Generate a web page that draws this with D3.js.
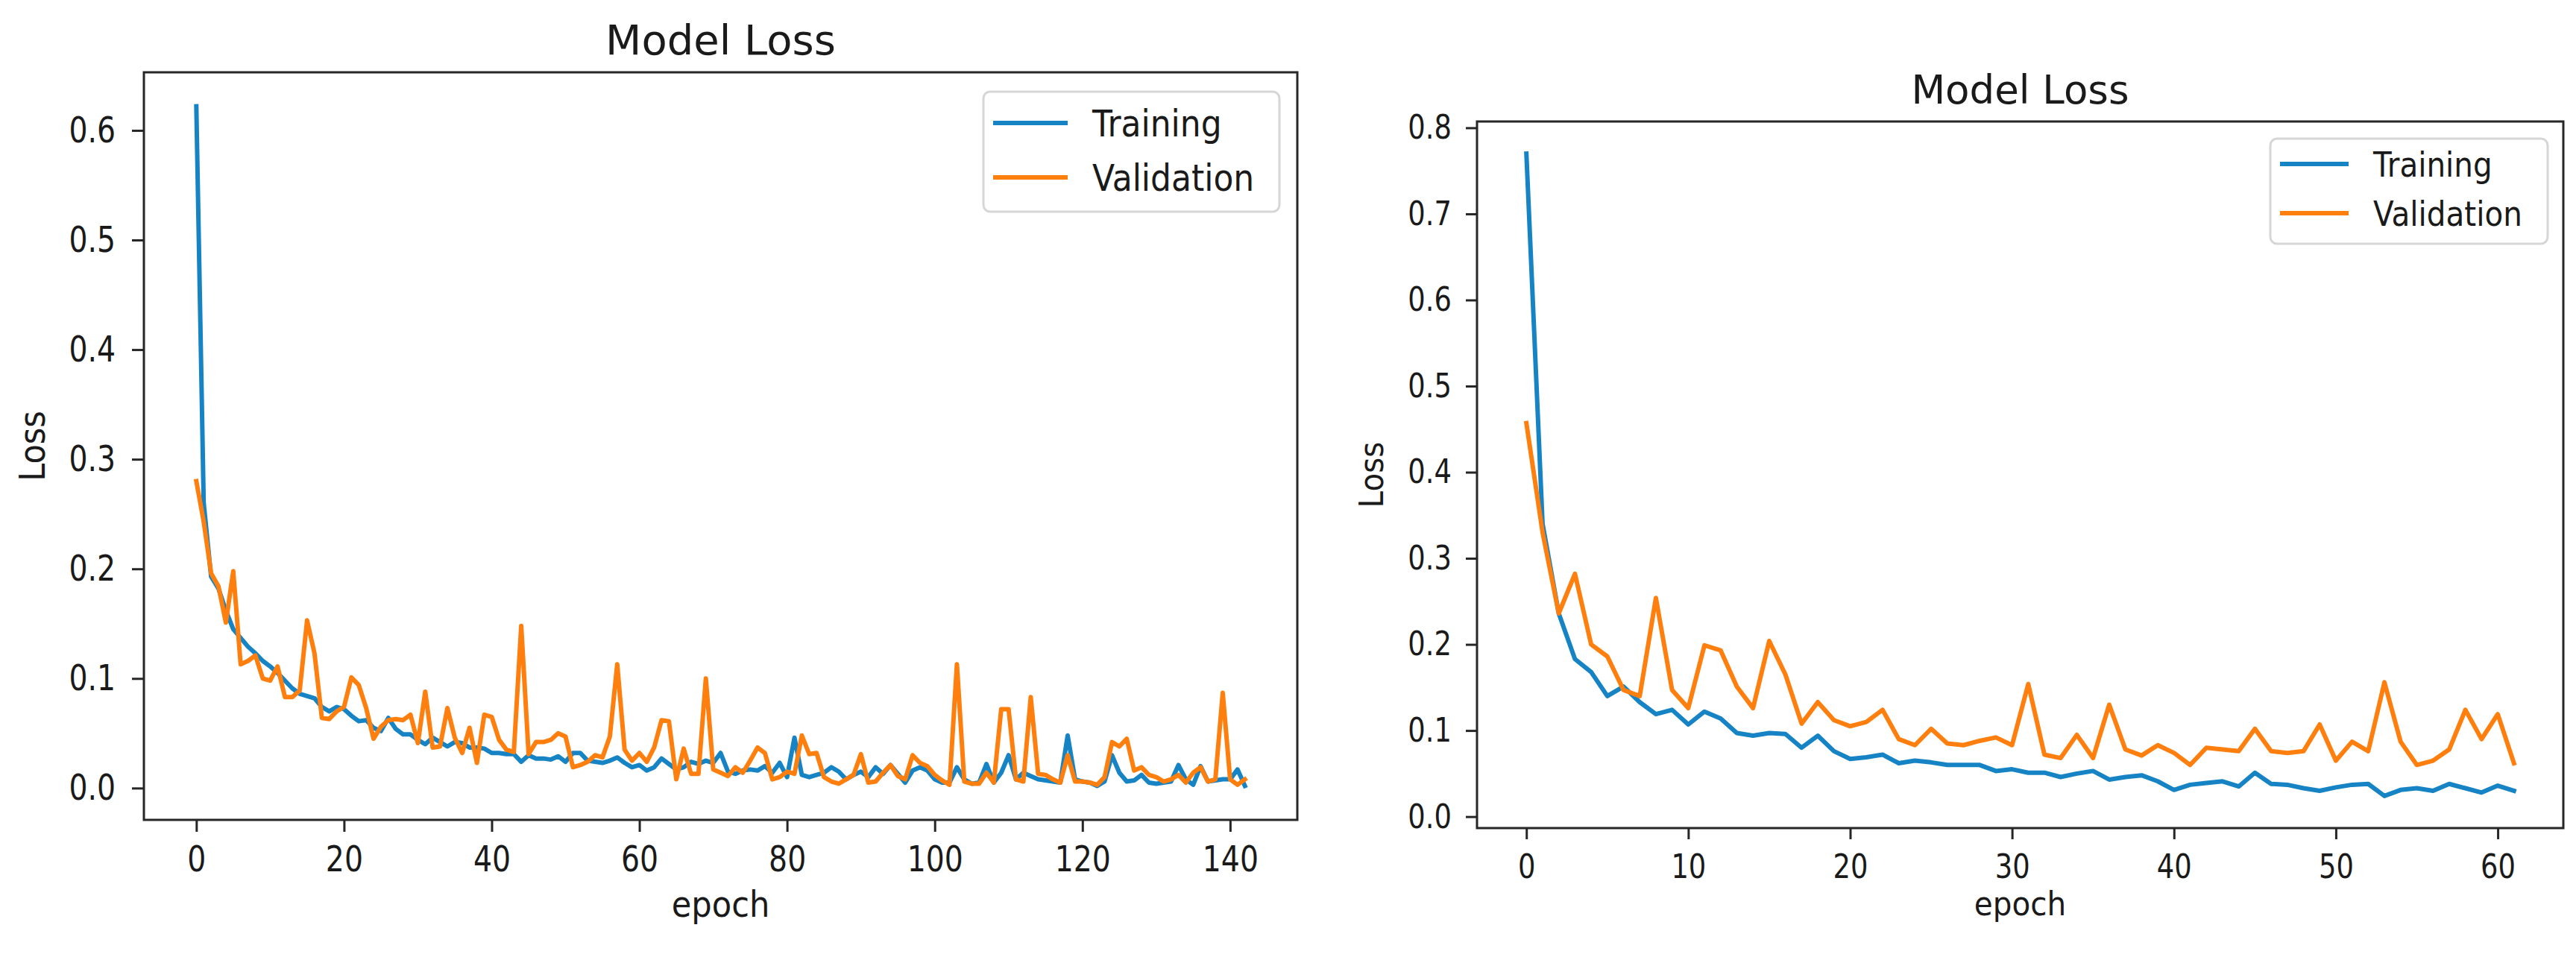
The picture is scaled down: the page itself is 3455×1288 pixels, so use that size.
<!DOCTYPE html>
<html>
<head>
<meta charset="utf-8">
<script src="https://cdn.jsdelivr.net/npm/d3@7"></script>
<style>
  html, body { margin: 0; padding: 0; background: #fff; }
  svg { display: block; }
  text { font-family: "DejaVu Sans", sans-serif; fill: #1a1a1a; }
</style>
</head>
<body>
<svg id="chart" width="3455" height="1288"></svg>
<script>
// ---- data ----
const seriesNames = ["Training", "Validation"];

// left panel: 143 epochs
const trainLossA = [
  0.622, 0.26, 0.193, 0.182, 0.162, 0.145, 0.137, 0.129, 0.123, 0.116,
  0.111, 0.105, 0.098, 0.091, 0.086, 0.084, 0.082, 0.074, 0.07, 0.074,
  0.072, 0.066, 0.061, 0.062, 0.055, 0.052, 0.064, 0.054, 0.049, 0.049,
  0.044, 0.04, 0.046, 0.042, 0.038, 0.042, 0.041, 0.037, 0.037, 0.036,
  0.032, 0.032, 0.031, 0.031, 0.024, 0.03, 0.027, 0.027, 0.026, 0.029,
  0.024, 0.032, 0.032, 0.025, 0.024, 0.023, 0.025, 0.028, 0.023, 0.019,
  0.021, 0.016, 0.019, 0.027, 0.022, 0.017, 0.019, 0.024, 0.022, 0.025,
  0.023, 0.032, 0.015, 0.013, 0.016, 0.017, 0.016, 0.02, 0.014, 0.023,
  0.01, 0.046, 0.012, 0.01, 0.012, 0.014, 0.019, 0.015, 0.008, 0.012,
  0.015, 0.01, 0.019, 0.013, 0.021, 0.013, 0.005, 0.016, 0.019, 0.016,
  0.008, 0.005, 0.005, 0.019, 0.008, 0.004, 0.005, 0.022, 0.005, 0.014,
  0.03, 0.008, 0.014, 0.011, 0.008, 0.007, 0.006, 0.005, 0.048, 0.008,
  0.006, 0.005, 0.002, 0.006, 0.03, 0.014, 0.006, 0.007, 0.012, 0.005,
  0.004, 0.005, 0.006, 0.021, 0.008, 0.003, 0.02, 0.006, 0.007, 0.008,
  0.008, 0.017, 0.002
];
const valLossA = [
  0.28, 0.243, 0.196, 0.184, 0.151, 0.198, 0.113, 0.116, 0.121, 0.1,
  0.098, 0.111, 0.083, 0.083, 0.089, 0.153, 0.123, 0.064, 0.063, 0.07,
  0.074, 0.101, 0.094, 0.073, 0.045, 0.056, 0.062, 0.063, 0.062, 0.067,
  0.041, 0.088, 0.037, 0.038, 0.073, 0.046, 0.032, 0.055, 0.023, 0.067,
  0.065, 0.044, 0.035, 0.033, 0.148, 0.031, 0.042, 0.042, 0.044, 0.05,
  0.047, 0.019, 0.021, 0.024, 0.03, 0.028, 0.047, 0.113, 0.035, 0.025,
  0.032, 0.024, 0.037, 0.062, 0.061, 0.008, 0.036, 0.013, 0.013, 0.1,
  0.017, 0.014, 0.011, 0.019, 0.014, 0.025, 0.037, 0.032, 0.008, 0.01,
  0.015, 0.013, 0.048, 0.031, 0.032, 0.01, 0.006, 0.004, 0.008, 0.012,
  0.031, 0.005, 0.006, 0.014, 0.021, 0.011, 0.008, 0.03, 0.023, 0.02,
  0.012, 0.007, 0.003, 0.113, 0.006, 0.004, 0.004, 0.014, 0.005, 0.072,
  0.072, 0.008, 0.006, 0.083, 0.013, 0.012, 0.008, 0.005, 0.03, 0.006,
  0.006, 0.005, 0.003, 0.01, 0.042, 0.038, 0.045, 0.016, 0.019, 0.012,
  0.01, 0.006, 0.008, 0.012, 0.005, 0.014, 0.019, 0.006, 0.008, 0.087,
  0.008, 0.003, 0.008
];
const xTicksA = [0, 20, 40, 60, 80, 100, 120, 140];
const yTicksA = [0.0, 0.1, 0.2, 0.3, 0.4, 0.5, 0.6];

// right panel: 62 epochs
const trainLossB = [
  0.77, 0.34, 0.236, 0.183, 0.168, 0.14, 0.151, 0.133, 0.119, 0.124,
  0.107, 0.122, 0.114, 0.097, 0.094, 0.097, 0.096, 0.08, 0.094, 0.076,
  0.067, 0.069, 0.072, 0.062, 0.065, 0.063, 0.06, 0.06, 0.06, 0.053,
  0.055, 0.051, 0.051, 0.046, 0.05, 0.053, 0.043, 0.046, 0.048, 0.041,
  0.031, 0.037, 0.039, 0.041, 0.035, 0.051, 0.038, 0.037, 0.033, 0.03,
  0.034, 0.037, 0.038, 0.024, 0.031, 0.033, 0.03, 0.038, 0.033, 0.028,
  0.036, 0.03
];
const valLossB = [
  0.457, 0.33, 0.236, 0.282, 0.2, 0.186, 0.147, 0.14, 0.254, 0.147,
  0.126, 0.199, 0.193, 0.151, 0.126, 0.204, 0.165, 0.108, 0.133, 0.112,
  0.105, 0.11, 0.124, 0.09, 0.083, 0.102, 0.085, 0.083, 0.088, 0.092,
  0.083, 0.154, 0.072, 0.068, 0.095, 0.068, 0.13, 0.078, 0.071, 0.083,
  0.074, 0.06, 0.08, 0.078, 0.076, 0.102, 0.076, 0.074, 0.076, 0.107,
  0.065, 0.087, 0.076, 0.156, 0.087, 0.06, 0.065, 0.078, 0.124, 0.09,
  0.119, 0.062
];
const xTicksB = [0, 10, 20, 30, 40, 50, 60];
const yTicksB = [0.0, 0.1, 0.2, 0.3, 0.4, 0.5, 0.6, 0.7, 0.8];

const COLORS = { train: "#1684c4", val: "#ff7f0e" };

const svg = d3.select("#chart");
svg.append("rect").attr("width", 3455).attr("height", 1288).attr("fill", "#fff");

/**
 * 横方向に詰めた文字（元画像の字形が細いため）
 */
function squeeze(sel, sx) {
  sel.each(function () {
    const t = d3.select(this);
    const x = +t.attr("x") || 0;
    t.attr("x", x / sx).attr("transform", `scale(${sx},1)`);
  });
}

// matplotlib 風の 5% 余白
function paddedExtent(values) {
  const [lo, hi] = d3.extent(values);
  const m = (hi - lo) * 0.05;
  return [lo - m, hi + m];
}

function drawPanel(p) {
  const n = p.train.length;
  const x = d3.scaleLinear().domain(paddedExtent([0, n - 1])).range([p.left, p.right]);
  const y = d3.scaleLinear().domain(paddedExtent(p.train.concat(p.val))).range([p.bottom, p.top]);
  const g = svg.append("g");

  // lines
  const line = d3.line().x((d, i) => x(i)).y((d) => y(d));
  const gLines = g.append("g");
  gLines.append("path").datum(p.train)
    .attr("d", line).attr("fill", "none")
    .attr("stroke", COLORS.train).attr("stroke-width", p.lw)
    .attr("stroke-linejoin", "round").attr("stroke-linecap", "square");
  gLines.append("path").datum(p.val)
    .attr("d", line).attr("fill", "none")
    .attr("stroke", COLORS.val).attr("stroke-width", p.lw)
    .attr("stroke-linejoin", "round").attr("stroke-linecap", "square");

  // axes
  const gx = g.append("g").attr("transform", `translate(0,${p.bottom})`)
    .call(d3.axisBottom(x).tickValues(p.xTicks).tickSize(p.tick).tickPadding(p.xPad).tickFormat(d3.format("d")));
  const gy = g.append("g").attr("transform", `translate(${p.left},0)`)
    .call(d3.axisLeft(y).tickValues(p.yTicks).tickSize(p.tick).tickPadding(p.yPad).tickFormat(d3.format(".1f")));
  [gx, gy].forEach((ax) => {
    ax.select(".domain").remove();
    ax.selectAll(".tick line").attr("stroke", "#262626").attr("stroke-width", 3);
    ax.selectAll(".tick text").attr("font-size", p.fs).attr("fill", "#1a1a1a")
      .attr("font-family", "DejaVu Sans");
  });
  squeeze(gx.selectAll(".tick text"), p.sx);
  squeeze(gy.selectAll(".tick text"), p.sx);

  // frame
  g.append("rect")
    .attr("x", p.left).attr("y", p.top)
    .attr("width", p.right - p.left).attr("height", p.bottom - p.top)
    .attr("fill", "none").attr("stroke", "#262626").attr("stroke-width", 3);

  // title & labels
  g.append("text").attr("x", (p.left + p.right) / 2).attr("y", p.titleY)
    .attr("text-anchor", "middle").attr("font-size", p.titleFs)
    .text("Model Loss");
  const ex = (p.left + p.right) / 2;
  g.append("text").attr("transform", `translate(${ex},${p.xlabY}) scale(${p.lsx},1)`)
    .attr("text-anchor", "middle").attr("font-size", p.fs).text("epoch");
  g.append("text")
    .attr("transform", `translate(${p.ylabX},${(p.top + p.bottom) / 2}) rotate(-90) scale(${p.lsx},1)`)
    .attr("text-anchor", "middle").attr("font-size", p.fs).text("Loss");

  // legend
  const L = p.legend;
  const gl = g.append("g");
  gl.append("rect").attr("x", L.x0).attr("y", L.y0)
    .attr("width", L.x1 - L.x0).attr("height", L.y1 - L.y0).attr("rx", 9)
    .attr("fill", "#fff").attr("fill-opacity", 0.8)
    .attr("stroke", "#d6d6d6").attr("stroke-width", 3);
  const rows = [COLORS.train, COLORS.val];
  seriesNames.forEach((name, i) => {
    const cy = L.rowY[i];
    gl.append("line").attr("x1", L.lx0).attr("x2", L.lx1).attr("y1", cy).attr("y2", cy)
      .attr("stroke", rows[i]).attr("stroke-width", p.lw);
    gl.append("text").attr("transform", `translate(${L.tx},${cy}) scale(${L.sx},1)`)
      .attr("dy", "0.36em").attr("font-size", L.fs).text(name);
  });
}

drawPanel({
  train: trainLossA, val: valLossA, xTicks: xTicksA, yTicks: yTicksA,
  left: 193, right: 1740, top: 97, bottom: 1100,
  lw: 6, tick: 16, xPad: 19, yPad: 22, fs: 48, sx: 0.82, lsx: 0.9,
  titleY: 73, titleFs: 56, xlabY: 1230, ylabX: 60,
  legend: { x0: 1319, y0: 123, x1: 1716, y1: 284, lx0: 1332, lx1: 1432, tx: 1465,
            rowY: [165, 238], fs: 50, sx: 0.88 }
});

drawPanel({
  train: trainLossB, val: valLossB, xTicks: xTicksB, yTicks: yTicksB,
  left: 1981, right: 3438, top: 163, bottom: 1111,
  lw: 6, tick: 15, xPad: 20, yPad: 19, fs: 45, sx: 0.82, lsx: 0.9,
  titleY: 139, titleFs: 53, xlabY: 1228, ylabX: 1855,
  legend: { x0: 3045, y0: 186, x1: 3417, y1: 327, lx0: 3058, lx1: 3150, tx: 3183,
            rowY: [220, 286], fs: 46, sx: 0.88 }
});
</script>
</body>
</html>
